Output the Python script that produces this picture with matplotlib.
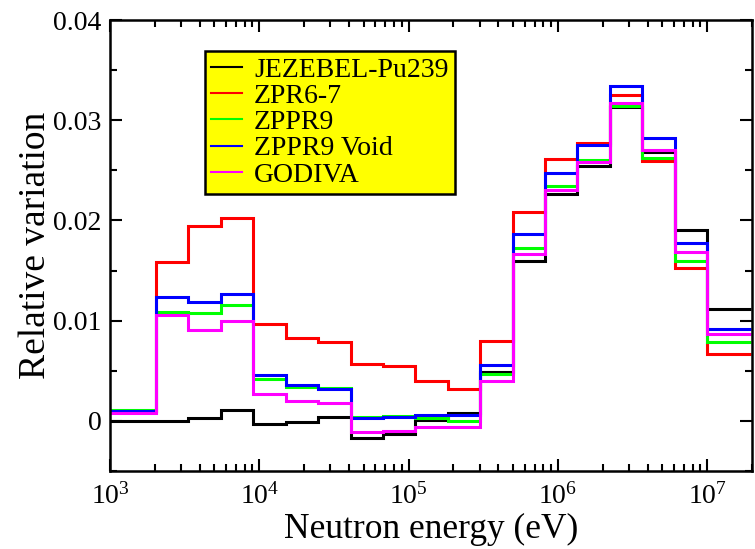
import numpy as np
import matplotlib
matplotlib.use("Agg")
import matplotlib.pyplot as plt
from matplotlib.ticker import FixedLocator, FuncFormatter, LogLocator, MultipleLocator, NullFormatter

plt.rcParams['font.family'] = ['Liberation Serif', 'DejaVu Serif']
plt.rcParams['mathtext.fontset'] = 'stix'

# ECCO-like group boundaries (eV), low to high
edges = [1.0e3, 2.035e3, 3.355e3, 5.531e3, 9.119e3, 1.503e4, 2.479e4, 4.087e4,
         6.738e4, 1.111e5, 1.832e5, 3.020e5, 4.979e5, 8.209e5, 1.353e6,
         2.231e6, 3.679e6, 6.065e6, 1.0e7, 1.964e7]

jezebel = [0.0000, 0.0000, 0.0003, 0.0011, -0.0003, -0.0001, 0.0004, -0.0017,
           -0.0013, 0.0001, 0.0008, 0.0049, 0.0160, 0.0226, 0.0254, 0.0313,
           0.0268, 0.0190, 0.0112]
zpr67 = [0.0010, 0.0159, 0.0194, 0.0202, 0.0097, 0.0083, 0.0079, 0.0057,
         0.0055, 0.0040, 0.0032, 0.0080, 0.0208, 0.0261, 0.0277, 0.0325,
         0.0259, 0.0153, 0.0067]
zppr9 = [0.0011, 0.0109, 0.0108, 0.0116, 0.0042, 0.0034, 0.0033, 0.0004,
         0.0005, 0.0003, 0.0000, 0.0047, 0.0173, 0.0234, 0.0260, 0.0314,
         0.0262, 0.0160, 0.0079]
zppr9_void = [0.0010, 0.0124, 0.0119, 0.0127, 0.0046, 0.0036, 0.0032, 0.0003,
              0.0004, 0.0006, 0.0006, 0.0056, 0.0186, 0.0247, 0.0275, 0.0334,
              0.0282, 0.0177, 0.0092]
godiva = [0.0008, 0.0106, 0.0091, 0.0100, 0.0027, 0.0020, 0.0018, -0.0011,
          -0.0010, -0.0006, -0.0006, 0.0040, 0.0167, 0.0230, 0.0258, 0.0317,
          0.0270, 0.0169, 0.0087]

series = [
    ("JEZEBEL-Pu239", jezebel, "#000000"),
    ("ZPR6-7", zpr67, "#ff0000"),
    ("ZPPR9", zppr9, "#00ff00"),
    ("ZPPR9 Void", zppr9_void, "#0000ff"),
    ("GODIVA", godiva, "#ff00ff"),
]

fig = plt.figure(figsize=(7.55, 5.49), dpi=100)
ax = fig.add_axes([110/755, 1-471/549, 642/755, 451/549])

for label, vals, col in series:
    ax.stairs(vals, edges, baseline=None, color=col, linewidth=2.2, label=label)

ax.set_xscale('log')
ax.set_xlim(1e3, 2e7)
ax.set_ylim(-0.005, 0.04)

ax.yaxis.set_major_locator(FixedLocator([0, 0.01, 0.02, 0.03, 0.04]))
ax.yaxis.set_minor_locator(MultipleLocator(0.005))
ax.yaxis.set_major_formatter(FuncFormatter(lambda v, p: "0" if abs(v) < 1e-12 else f"{v:.2f}"))
ax.xaxis.set_major_locator(LogLocator(base=10, numticks=20))
ax.xaxis.set_minor_locator(LogLocator(base=10, subs=np.arange(2, 10), numticks=20))
ax.xaxis.set_minor_formatter(NullFormatter())

ax.tick_params(which='both', direction='in', top=True, right=True, width=1.5, labelsize=20)
ax.tick_params(which='major', length=8.5)
ax.tick_params(which='minor', length=5)
ax.tick_params(axis='x', which='major', pad=9)
ax.tick_params(axis='y', which='major', pad=6)
for s in ax.spines.values():
    s.set_linewidth(1.8)

ax.set_xlabel("Neutron energy (eV)", fontsize=25.5)
ax.set_ylabel("Relative variation", fontsize=27)
ax.xaxis.set_label_coords(0.5, -0.093)
ax.yaxis.set_label_coords(-0.089, 0.5)

leg = ax.legend(loc='upper left', bbox_to_anchor=(95/642, 420/451), borderaxespad=0,
                fontsize=20, handlelength=1.1, handletextpad=0.45, labelspacing=0.03,
                borderpad=0.22, fancybox=False, framealpha=1, facecolor='#ffff00',
                edgecolor='black')
leg.get_frame().set_linewidth(1.8)
for h in leg.legend_handles:
    h.set_linewidth(1.5)

fig.savefig("out.png", dpi=100)
